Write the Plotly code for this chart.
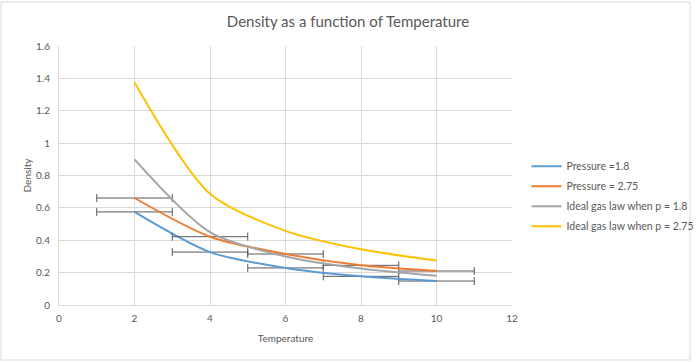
import plotly.graph_objects as go

temps = [2, 4, 6, 8, 10]
density_p18 = [0.575, 0.327, 0.229, 0.177, 0.148]
density_p275 = [0.661, 0.422, 0.315, 0.245, 0.21]
ideal_p18 = [0.90, 0.45, 0.30, 0.225, 0.18]
ideal_p275 = [1.375, 0.6875, 0.458, 0.344, 0.275]
temp_err = [1, 1, 1, 1, 1]

FONT = "Lato"
W, H = 700, 362
ml, mr, mt, mb = 59, 188, 46, 57

fig = go.Figure()
err = dict(type="data", array=temp_err, visible=True, color="#595959", thickness=1, width=4)
fig.add_trace(go.Scatter(x=temps, y=density_p18, mode="lines", name="Pressure =1.8", legendgroup="a",
                         line=dict(color="#5B9BD5", width=2, shape="spline", smoothing=0.8),
                         error_x=err))
fig.add_trace(go.Scatter(x=temps, y=density_p275, mode="lines", name="Pressure = 2.75", legendgroup="b",
                         line=dict(color="#ED7D31", width=2, shape="spline", smoothing=0.8),
                         error_x=err))
fig.add_trace(go.Scatter(x=temps, y=ideal_p18, mode="lines", name="Ideal gas law when p = 1.8", legendgroup="c",
                         line=dict(color="#A5A5A5", width=2, shape="spline", smoothing=0.8)))
fig.add_trace(go.Scatter(x=temps, y=ideal_p275, mode="lines", name="Ideal gas law when p = 2.75", legendgroup="d",
                         line=dict(color="#FFC000", width=2, shape="spline", smoothing=0.8)))

pw = W - ml - mr
ph = H - mt - mb
fig.add_shape(type="rect", xref="paper", yref="paper",
              x0=(1 - ml) / pw, x1=(W - 10 - ml) / pw,
              y0=-(mb - 2) / ph, y1=1 + (mt - 2) / ph,
              line=dict(color="#D9D9D9", width=1), fillcolor="rgba(0,0,0,0)", layer="below")

fig.update_layout(
    width=W, height=H,
    margin=dict(l=ml, r=mr, t=mt, b=mb, autoexpand=False),
    paper_bgcolor="white", plot_bgcolor="white",
    font=dict(family=FONT, color="#595959", size=10),
    title=dict(text="Density as a function of Temperature", x=348 / W, xanchor="center",
               y=1 - 22 / H, yanchor="middle", font=dict(size=15, color="#595959", family=FONT)),
    xaxis=dict(range=[0, 12], dtick=2, tick0=0, showgrid=True, gridcolor="#D9D9D9", gridwidth=1,
               zeroline=False, showline=True, linecolor="#D9D9D9", ticks="", automargin=False,
               tickfont=dict(size=10, color="#595959"), ticklabelstandoff=4,
               title=dict(text="Temperature", font=dict(size=10, color="#595959"), standoff=11)),
    yaxis=dict(range=[0, 1.6], dtick=0.2, tick0=0, showgrid=True, gridcolor="#D9D9D9", gridwidth=1,
               zeroline=False, showline=True, linecolor="#D9D9D9", ticks="", automargin=False,
               tickfont=dict(size=10, color="#595959"), ticklabelstandoff=6,
               title=dict(text="Density", font=dict(size=10, color="#595959"), standoff=2)),
    legend=dict(x=1.032, xanchor="left", y=0.42, yanchor="middle",
                font=dict(size=10.5, color="#595959"), itemwidth=30, tracegroupgap=1,
                bgcolor="rgba(0,0,0,0)"),
    showlegend=True,
)

fig.write_html("out.html", post_script="document.body.style.margin='0';",
               config={"displayModeBar": False})
